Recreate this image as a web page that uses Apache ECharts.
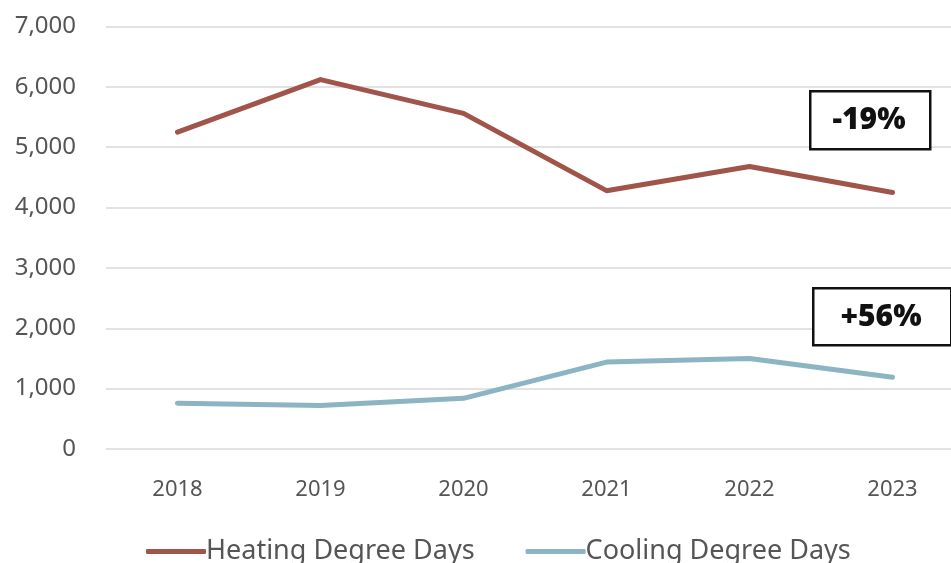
<!DOCTYPE html>
<html>
<head>
<meta charset="utf-8">
<script src="https://cdn.jsdelivr.net/npm/echarts@6/dist/echarts.min.js"></script>
<style>
  html, body { margin: 0; padding: 0; background: #fff; }
  #chart { width: 951px; height: 563px; }
</style>
</head>
<body>
<div id="chart"></div>
<script>
// Annual degree days
const years = ['2018', '2019', '2020', '2021', '2022', '2023'];
const heatingDegreeDays = [5250, 6120, 5560, 4280, 4680, 4250];
const coolingDegreeDays = [760, 720, 840, 1440, 1500, 1190];
const yTicks = { min: 0, max: 7000, interval: 1000 };
const heatingChange = '-19%';
const coolingChange = '+56%';

const FONT = '"Noto Sans", "Open Sans", sans-serif';
const HEAT_COLOR = '#A0544A';
const COOL_COLOR = '#8DB4C3';

const chart = echarts.init(document.getElementById('chart'), null, { renderer: 'canvas' });

chart.setOption({
  animation: false,
  backgroundColor: '#ffffff',
  textStyle: { fontFamily: FONT },
  // the plot area runs past the right edge of the canvas
  grid: { left: 106, width: 858, top: 26.5, height: 422.5, containLabel: false, outerBoundsMode: 'none' },
  xAxis: {
    type: 'category',
    data: years,
    boundaryGap: true,
    axisLine: { show: false },
    axisTick: { show: false },
    axisLabel: { color: '#555', fontSize: 22, margin: 30, fontFamily: FONT }
  },
  yAxis: {
    type: 'value',
    min: yTicks.min,
    max: yTicks.max,
    interval: yTicks.interval,
    axisLine: { show: false },
    axisTick: { show: false },
    axisLabel: {
      color: '#555', fontSize: 24, margin: 30, fontFamily: FONT,
      formatter: v => v.toLocaleString('en-US')
    },
    splitLine: { lineStyle: { color: '#d9d9d9', width: 1.5 } }
  },
  legend: {
    top: 538,
    left: 146,
    padding: 0,
    itemWidth: 60,
    itemHeight: 5,
    itemGap: 51,
    icon: 'roundRect',
    textStyle: { color: '#555', fontSize: 27, fontFamily: FONT, padding: [0, 0, 0, -5] },
    data: ['Heating Degree Days', 'Cooling Degree Days']
  },
  series: [
    {
      name: 'Heating Degree Days',
      type: 'line',
      data: heatingDegreeDays,
      symbol: 'none',
      color: HEAT_COLOR,
      lineStyle: { width: 5, color: HEAT_COLOR, cap: 'round', join: 'round' }
    },
    {
      name: 'Cooling Degree Days',
      type: 'line',
      data: coolingDegreeDays,
      symbol: 'none',
      color: COOL_COLOR,
      lineStyle: { width: 5, color: COOL_COLOR, cap: 'round', join: 'round' }
    }
  ],
  graphic: [
    {
      type: 'rect', left: 809, top: 90, z: 10,
      shape: { width: 120, height: 58 },
      style: { fill: '#fff', stroke: '#111', lineWidth: 2.5 }
    },
    {
      type: 'text', x: 869, y: 120, z: 11,
      style: { text: heatingChange, fill: '#111', font: '900 30px ' + FONT, align: 'center', verticalAlign: 'middle' }
    },
    {
      type: 'rect', left: 812, top: 287, z: 10,
      shape: { width: 138, height: 57 },
      style: { fill: '#fff', stroke: '#111', lineWidth: 2.5 }
    },
    {
      type: 'text', x: 881, y: 317, z: 11,
      style: { text: coolingChange, fill: '#111', font: '900 30px ' + FONT, align: 'center', verticalAlign: 'middle' }
    }
  ]
});
</script>
</body>
</html>
